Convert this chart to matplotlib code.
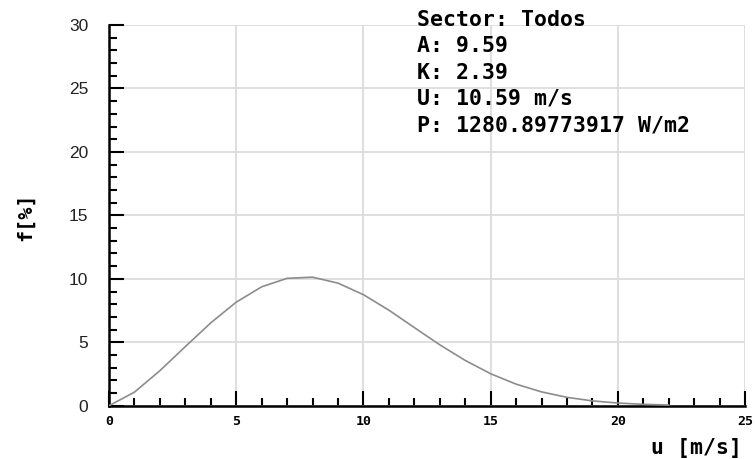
import matplotlib
matplotlib.use("Agg")
import matplotlib.pyplot as plt
from matplotlib.ticker import MultipleLocator

# Data
u_values = [0, 1, 2, 3, 4, 5, 6, 7, 8, 9, 10, 11, 12, 13, 14, 15, 16, 17, 18, 19, 20, 21, 22]
f_values = [0.0, 1.07, 2.76, 4.66, 6.53, 8.16, 9.37, 10.04, 10.13, 9.66, 8.75, 7.53,
            6.16, 4.80, 3.57, 2.52, 1.70, 1.09, 0.66, 0.38, 0.21, 0.11, 0.05]
x_ticks = [0, 5, 10, 15, 20, 25]
y_ticks = [0, 5, 10, 15, 20, 25, 30]
info_lines = ["Sector: Todos", "A: 9.59", "K: 2.39", "U: 10.59 m/s", "P: 1280.89773917 W/m2"]

fig = plt.figure(figsize=(7.55, 4.59), dpi=100)
ax = fig.add_axes([0.1444, 0.1161, 0.8424, 0.8294])

ax.plot(u_values, f_values, color="#8c8c8c", lw=1.2, zorder=3)

ax.set_xlim(0, 25)
ax.set_ylim(0, 30)
ax.set_xticks(x_ticks)
ax.set_yticks(y_ticks)
ax.xaxis.set_minor_locator(MultipleLocator(1))
ax.yaxis.set_minor_locator(MultipleLocator(1))
ax.grid(True, which="major", color="#dcdcdc", lw=1.3, zorder=0)
ax.set_axisbelow(True)

for s in ["top", "right"]:
    ax.spines[s].set_visible(False)
for s in ["left", "bottom"]:
    ax.spines[s].set_linewidth(1.8)
    ax.spines[s].set_color("black")

ax.tick_params(axis="both", which="major", direction="in", length=11, width=1.5, color="black")
ax.tick_params(axis="both", which="minor", direction="in", length=6, width=1.5, color="black")
ax.tick_params(axis="y", which="major", pad=15, labelsize=12.5)
ax.tick_params(axis="x", which="major", pad=7)
for lab in ax.get_yticklabels():
    lab.set_family("Liberation Sans")
    lab.set_color("#222222")
for lab in ax.get_xticklabels():
    lab.set_family("DejaVu Sans Mono")
    lab.set_fontweight("bold")
    lab.set_fontsize(9.5)

mono = "DejaVu Sans Mono"
fig.text(25 / 755, 1 - 217 / 459, "f[%]", rotation=90, ha="center", va="center",
         family=mono, fontweight="bold", fontsize=14.5)
fig.text(742 / 755, 1 - 448 / 459, "u [m/s]", ha="right", va="center",
         family=mono, fontweight="bold", fontsize=15.5)

y0 = 20
for i, line in enumerate(info_lines):
    fig.text(417 / 755, 1 - (y0 + 26.3 * i) / 459, line, ha="left", va="center",
             family=mono, fontweight="bold", fontsize=15.5, color="black")

fig.savefig("out.png", dpi=100)
